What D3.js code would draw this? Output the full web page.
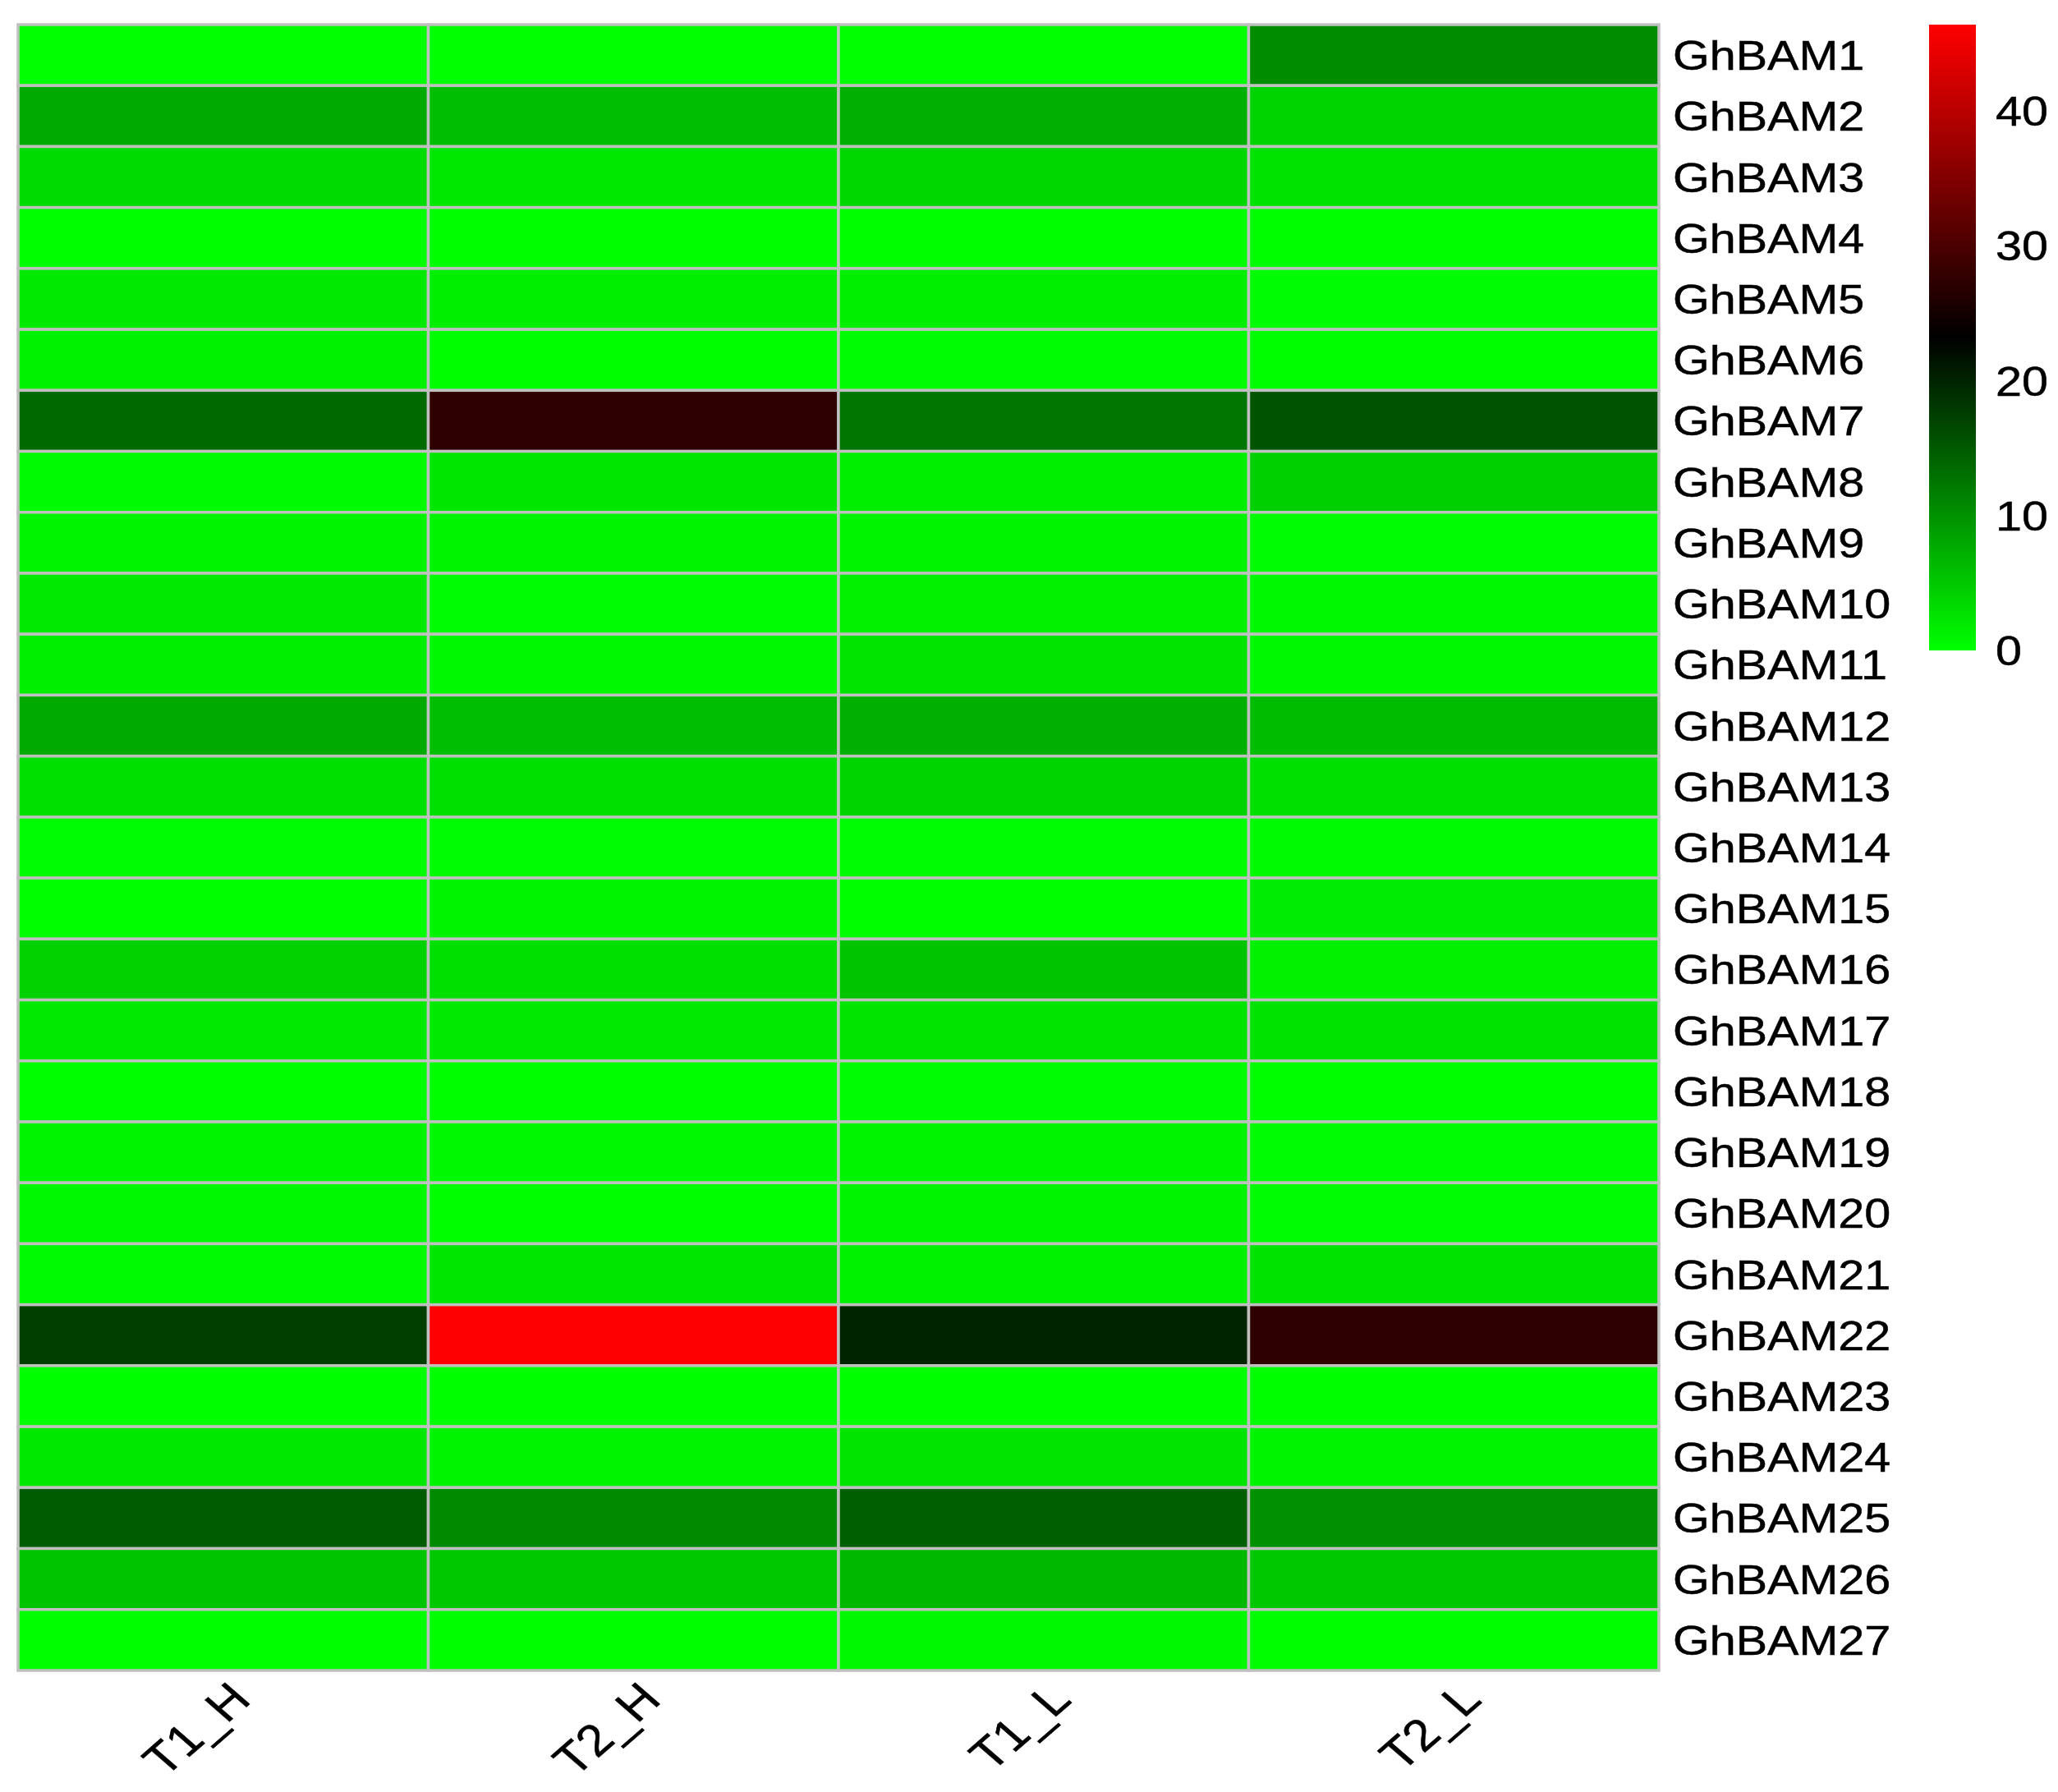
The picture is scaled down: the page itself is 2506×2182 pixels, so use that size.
<!DOCTYPE html>
<html>
<head>
<meta charset="utf-8">
<script src="https://cdn.jsdelivr.net/npm/d3@7"></script>
<style>
  html, body { margin: 0; padding: 0; background: #ffffff; }
  svg { display: block; }
  text { font-family: "Liberation Sans", Arial, Helvetica, sans-serif; fill: #000; }
</style>
</head>
<body>
<svg id="chart" width="2506" height="2182"></svg>
<script>
// ---- data ----
const samples = ["T1_H", "T2_H", "T1_L", "T2_L"];
const genes = ["GhBAM1","GhBAM2","GhBAM3","GhBAM4","GhBAM5","GhBAM6","GhBAM7","GhBAM8","GhBAM9",
  "GhBAM10","GhBAM11","GhBAM12","GhBAM13","GhBAM14","GhBAM15","GhBAM16","GhBAM17","GhBAM18",
  "GhBAM19","GhBAM20","GhBAM21","GhBAM22","GhBAM23","GhBAM24","GhBAM25","GhBAM26","GhBAM27"];
const T1_H = [0.0, 7.7, 3.2, 0.1, 1.9, 1.2, 13.6, 0.5, 1.0, 1.9, 1.5, 7.7, 2.8, 0.3, 0.1, 4.1, 1.9, 0.1, 1.0, 0.6, 0.5, 17.5, 0.1, 2.1, 14.8, 5.4, 0.1];
const T2_H = [0.0, 5.9, 2.1, 0.2, 1.5, 0.1, 27.4, 2.3, 1.0, 0.3, 0.6, 5.9, 2.8, 0.3, 1.0, 2.8, 1.9, 0.1, 0.6, 0.1, 2.3, 46.4, 0.1, 1.0, 10.6, 5.0, 0.1];
const T1_L = [0.0, 7.2, 3.7, 0.1, 1.5, 0.3, 12.5, 1.5, 1.0, 1.4, 2.5, 7.2, 3.9, 0.3, 0.1, 5.4, 2.5, 0.3, 1.0, 1.0, 1.2, 19.9, 0.1, 2.5, 14.6, 6.5, 0.6];
const T2_L = [10.5, 3.9, 2.6, 0.1, 0.3, 0.1, 15.6, 4.3, 0.3, 0.6, 0.6, 6.1, 2.8, 0.5, 1.7, 1.4, 2.6, 0.1, 0.3, 0.3, 2.6, 27.4, 0.1, 1.0, 10.1, 5.0, 0.1];
const legendTicks = [0, 10, 20, 30, 40];

const series = [T1_H, T2_H, T1_L, T2_L];
const cells = [];
genes.forEach((g, i) => samples.forEach((s, j) => cells.push({ gene: g, sample: s, value: series[j][i] })));

const allVals = cells.map(d => d.value);
const vmin = d3.min(allVals), vmax = d3.max(allVals);
const color = d3.scaleLinear()
  .domain([vmin, (vmin + vmax) / 2, vmax])
  .range(["#00ff00", "#000000", "#ff0000"])
  .interpolate(d3.interpolateRgb);

// ---- layout ----
const svg = d3.select("#chart");
const hm = { left: 22, top: 30, right: 2020, bottom: 2034 };
const x = d3.scaleBand().domain(samples).range([hm.left, hm.right]);
const y = d3.scaleBand().domain(genes).range([hm.top, hm.bottom]);
const stretch = 1.15;
const fontSize = 50;
const gridColor = "#c0c0c0";

// cells
svg.append("g").selectAll("rect").data(cells).join("rect")
  .attr("x", d => x(d.sample))
  .attr("y", d => y(d.gene))
  .attr("width", x.bandwidth())
  .attr("height", y.bandwidth())
  .attr("fill", d => color(d.value))
  .attr("stroke", gridColor)
  .attr("stroke-width", 3.5);

// row labels
svg.append("g").selectAll("text").data(genes).join("text")
  .attr("transform", d => `translate(2037,${y(d) + y.bandwidth() / 2}) scale(${stretch},1)`)
  .attr("dy", "0.36em")
  .attr("font-size", fontSize)
  .attr("stroke", "#000").attr("stroke-width", 0.5)
  .text(d => d);

// column labels
svg.append("g").selectAll("text").data(samples).join("text")
  .attr("transform", d => `translate(${x(d) + x.bandwidth() / 2 + 36},2072) scale(${stretch},1) rotate(-45)`)
  .attr("text-anchor", "end")
  .attr("font-size", 54)
  .attr("stroke", "#000").attr("stroke-width", 0.5)
  .text(d => d);

// legend
const lg = { x: 2349, w: 57 };
const ly = d3.scaleLinear().domain([0, 46.4]).range([792, 30]);
const defs = svg.append("defs");
const grad = defs.append("linearGradient").attr("id", "lgrad")
  .attr("x1", 0).attr("y1", 1).attr("x2", 0).attr("y2", 0);
d3.range(0, 1.0001, 0.05).forEach(t => {
  const v = vmin + t * (vmax - vmin);
  grad.append("stop").attr("offset", t).attr("stop-color", color(v));
});
svg.append("rect")
  .attr("x", lg.x).attr("y", ly(vmax))
  .attr("width", lg.w).attr("height", ly(vmin) - ly(vmax))
  .attr("fill", "url(#lgrad)");

svg.append("g").selectAll("text").data(legendTicks).join("text")
  .attr("transform", d => `translate(2430,${ly(d)}) scale(${stretch},1)`)
  .attr("dy", "0.36em")
  .attr("font-size", fontSize)
  .attr("stroke", "#000").attr("stroke-width", 0.5)
  .text(d => d);
</script>
</body>
</html>
